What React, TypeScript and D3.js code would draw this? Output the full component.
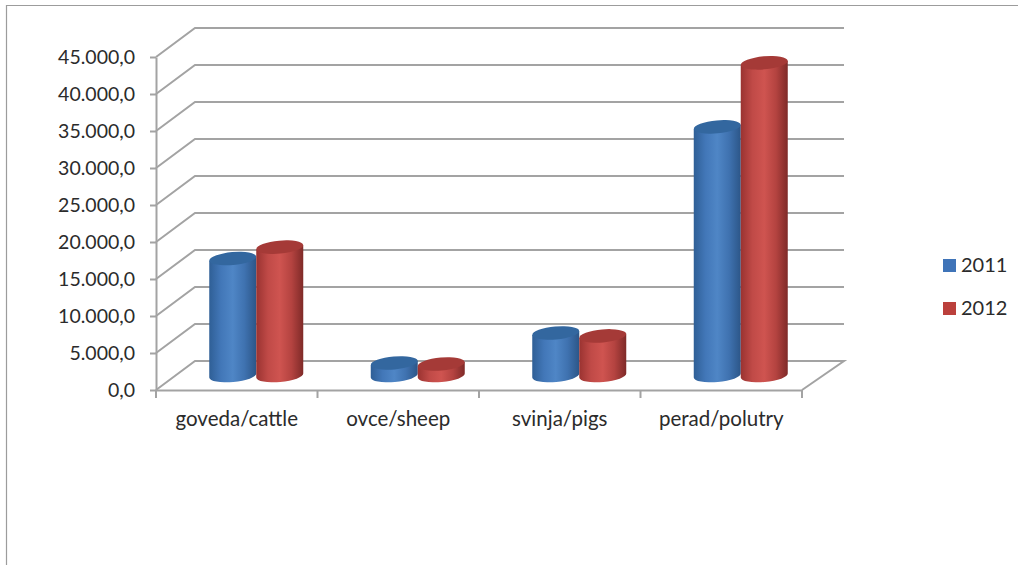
import { useEffect, useRef } from "react";
import * as d3 from "d3";

const categories = ["goveda/cattle", "ovce/sheep", "svinja/pigs", "perad/polutry"];
const seriesNames = ["2011", "2012"];
const values2011 = [15800, 1700, 5750, 33600];
const values2012 = [17350, 1550, 5350, 42250];
const yTicks = [0, 5000, 10000, 15000, 20000, 25000, 30000, 35000, 40000, 45000];

const seriesValues = [values2011, values2012];
const palette = [
  { top: "#33679f", stops: ["#2f5f96", "#4277b8", "#4f86c6", "#3f72b0", "#2c5688"] },
  { top: "#a53a37", stops: ["#9a3331", "#c04a47", "#cf5450", "#b44340", "#7f2a28"] },
];
const swatches = ["#3f74b8", "#bb403c"];

const width = 1018;
const height = 565;
const fontFamily = "Lato, 'Open Sans', sans-serif";

export default function App() {
  const svgRef = useRef<SVGSVGElement | null>(null);

  useEffect(() => {
    const node = svgRef.current;
    if (!node) return;
    node.innerHTML = "";

    const svg = d3.select(node);
    const line = "#a3a3a3";
    const ink = "#2b2b2b";

    const frontLeft = 156;
    const frontRight = 802;
    const depthX = 39;
    const depthY = 29;
    const baseline = 390;

    const x = d3.scaleBand<string>().domain(categories).range([frontLeft, frontRight]);
    const y = d3.scaleLinear().domain([0, 45000]).range([baseline, 57]);
    const groupWidth = 94;
    const inner = d3
      .scaleBand<string>()
      .domain(seriesNames)
      .range([-groupWidth / 2, groupWidth / 2]);

    const locale = d3.formatLocale({
      decimal: ",",
      thousands: ".",
      grouping: [3],
      currency: ["", ""],
    });
    const tickFormat = locale.format(",.1f");

    const defs = svg.append("defs");
    palette.forEach((colour, index) => {
      const gradient = defs.append("linearGradient").attr("id", `cyl-${index}`);
      colour.stops.forEach((stop, i) => {
        gradient
          .append("stop")
          .attr("offset", `${(i / (colour.stops.length - 1)) * 100}%`)
          .attr("stop-color", stop);
      });
    });

    // chart frame, cut off at the right and bottom of the page
    svg
      .append("path")
      .attr("d", `M6.5,${height} V5.5 H${width}`)
      .attr("fill", "none")
      .attr("stroke", "#9c9c9c")
      .attr("stroke-width", 1.2);

    // grid: back wall plus side wall
    const grid = svg.append("g").attr("fill", "none").attr("stroke", line).attr("stroke-width", 2);
    yTicks.forEach((tick) => {
      const yFront = y(tick);
      const points: [number, number][] =
        tick === 0
          ? [
              [frontLeft, yFront],
              [frontLeft + depthX, yFront - depthY],
              [frontRight + depthX + 3, yFront - depthY],
              [frontRight, yFront],
            ]
          : [
              [frontLeft, yFront],
              [frontLeft + depthX, yFront - depthY],
              [frontRight + depthX + 3, yFront - depthY],
            ];
      grid.append("path").attr("d", d3.line()(points));
    });

    const yAxis = d3.axisLeft(y).tickValues(yTicks).tickFormat((v) => tickFormat(Number(v))).tickSize(6).tickSizeOuter(0);
    svg
      .append("g")
      .attr("transform", `translate(${frontLeft},0)`)
      .call(yAxis)
      .call((axis) => {
        axis.selectAll("path, line").attr("stroke", line).attr("stroke-width", 2);
        axis
          .selectAll("text")
          .attr("fill", ink)
          .attr("font-size", 19.5)
          .attr("font-family", fontFamily)
          .attr("x", -21)
          .attr("dy", "0.34em");
      });

    const xAxis = d3.axisBottom(x).tickSize(0).tickSizeOuter(0);
    svg
      .append("g")
      .attr("transform", `translate(0,${baseline})`)
      .call(xAxis)
      .call((axis) => {
        axis.select("path").attr("stroke", line).attr("stroke-width", 2);
        axis
          .selectAll("text")
          .attr("fill", ink)
          .attr("font-size", 20.5)
          .attr("font-family", fontFamily)
          .attr("y", 29)
          .attr("dy", "0.34em");
      });

    // x ticks sit on the band edges
    svg
      .append("g")
      .selectAll("line")
      .data([...categories.map((c) => x(c) ?? 0), frontRight])
      .join("line")
      .attr("x1", (d) => d)
      .attr("x2", (d) => d)
      .attr("y1", baseline)
      .attr("y2", baseline + 8)
      .attr("stroke", line)
      .attr("stroke-width", 2);

    // cylinders
    const rx = inner.bandwidth() / 2;
    const ry = 6.5;
    const tilt = -5;
    const baseShift = -(depthY / 2);

    categories.forEach((category, c) => {
      const cx0 = (x(category) ?? 0) + x.bandwidth() / 2 + depthX / 2;
      seriesNames.forEach((name, s) => {
        const cx = cx0 + (inner(name) ?? 0) + rx;
        const yTop = y(seriesValues[s][c]) + baseShift;
        const yBase = y(0) + baseShift;
        const slope = Math.sin((tilt * Math.PI) / 180) * rx;
        const bar = svg.append("g");
        bar
          .append("path")
          .attr(
            "d",
            `M${cx - rx},${yTop - slope} L${cx + rx},${yTop + slope} L${cx + rx},${yBase + slope} ` +
              `A${rx},${ry} ${tilt} 0 1 ${cx - rx},${yBase - slope} Z`
          )
          .attr("fill", `url(#cyl-${s})`);
        bar
          .append("ellipse")
          .attr("cx", cx)
          .attr("cy", yTop)
          .attr("rx", rx)
          .attr("ry", ry)
          .attr("transform", `rotate(${tilt} ${cx} ${yTop})`)
          .attr("fill", palette[s].top);
      });
    });

    // legend
    const legendY = d3.scalePoint<string>().domain(seriesNames).range([265.5, 308.5]);
    const legend = svg.append("g");
    seriesNames.forEach((name, s) => {
      const ly = legendY(name) ?? 0;
      legend
        .append("rect")
        .attr("x", 943)
        .attr("y", ly - 6.5)
        .attr("width", 13)
        .attr("height", 13)
        .attr("fill", swatches[s]);
      legend
        .append("text")
        .attr("x", 961)
        .attr("y", ly)
        .attr("dy", "0.34em")
        .attr("font-size", 20)
        .attr("font-family", fontFamily)
        .attr("fill", ink)
        .text(name);
    });
  }, []);

  return (
    <svg
      ref={svgRef}
      width={width}
      height={height}
      viewBox={`0 0 ${width} ${height}`}
      style={{ position: "fixed", left: 0, top: 0, background: "#fff" }}
    />
  );
}
